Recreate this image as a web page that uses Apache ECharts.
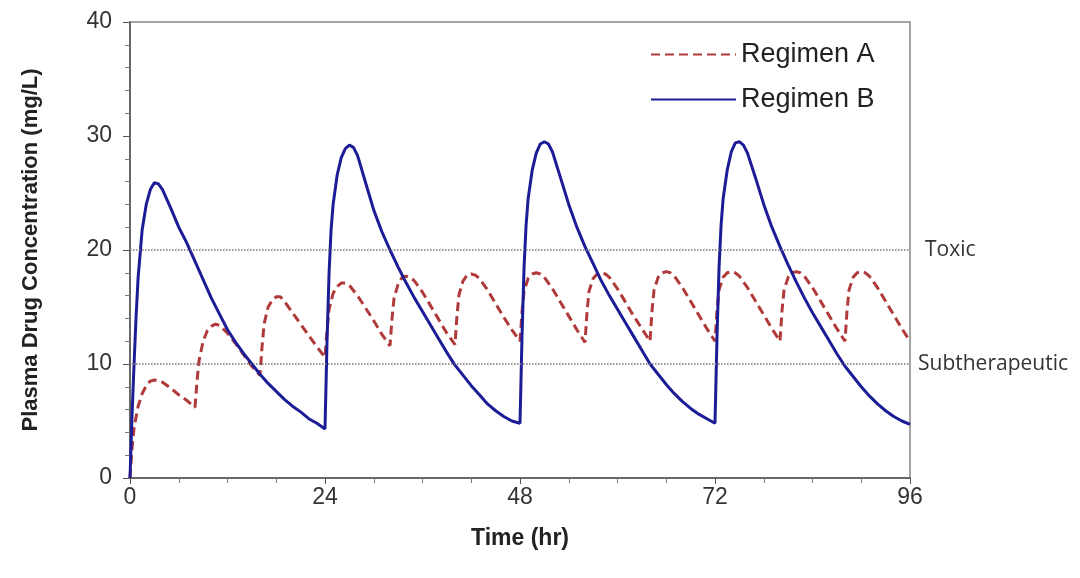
<!DOCTYPE html>
<html>
<head>
<meta charset="utf-8">
<script src="https://cdn.jsdelivr.net/npm/echarts@6/dist/echarts.min.js"></script>
<style>
html, body { margin: 0; padding: 0; background: #fff; }
#chart { width: 1080px; height: 578px; }
</style>
</head>
<body>
<div id="chart"></div>
<script>
// Regimen A: a dose every 8 hr
const timeA = [
  0, 0.25, 0.5, 1, 1.5, 2, 2.5, 3, 4, 5, 6, 7,
  8, 8.25, 8.5, 9, 9.5, 10, 10.5, 11, 12, 13, 14, 15,
  16, 16.25, 16.5, 17, 17.5, 18, 18.5, 19, 20, 21, 22, 23,
  24, 24.25, 24.5, 25, 25.5, 26, 26.5, 27, 28, 29, 30, 31,
  32, 32.25, 32.5, 33, 33.5, 34, 34.5, 35, 36, 37, 38, 39,
  40, 40.25, 40.5, 41, 41.5, 42, 42.5, 43, 44, 45, 46, 47,
  48, 48.25, 48.5, 49, 49.5, 50, 50.5, 51, 52, 53, 54, 55,
  56, 56.25, 56.5, 57, 57.5, 58, 58.5, 59, 60, 61, 62, 63,
  64, 64.25, 64.5, 65, 65.5, 66, 66.5, 67, 68, 69, 70, 71,
  72, 72.25, 72.5, 73, 73.5, 74, 74.5, 75, 76, 77, 78, 79,
  80, 80.25, 80.5, 81, 81.5, 82, 82.5, 83, 84, 85, 86, 87,
  88, 88.25, 88.5, 89, 89.5, 90, 90.5, 91, 92, 93, 94, 95,
  96
]
const concA = [
  0, 2.6, 4.4, 6.3, 7.4, 8.1, 8.5, 8.6, 8.4, 7.9, 7.3, 6.8,
  6.2, 8.5, 10.3, 12.0, 12.9, 13.3, 13.5, 13.4, 12.7, 11.8, 10.8, 9.8,
  9.0, 11.5, 13.5, 15.0, 15.6, 15.9, 15.9, 15.5, 14.5, 13.5, 12.5, 11.5,
  10.6, 13.0, 14.8, 16.2, 16.8, 17.1, 17.1, 16.9, 16.0, 14.9, 13.8, 12.6,
  11.6, 14.0, 15.8, 17.0, 17.6, 17.7, 17.6, 17.3, 16.3, 15.1, 13.9, 12.7,
  11.7, 14.3, 16.1, 17.3, 17.8, 17.9, 17.8, 17.5, 16.5, 15.3, 14.1, 13.0,
  12.0, 14.6, 16.4, 17.5, 17.9, 18.0, 17.9, 17.6, 16.6, 15.4, 14.2, 13.0,
  11.9, 14.6, 16.4, 17.5, 17.9, 18.0, 17.9, 17.6, 16.6, 15.4, 14.2, 13.1,
  12.0, 14.7, 16.5, 17.6, 18.0, 18.1, 18.0, 17.7, 16.7, 15.5, 14.3, 13.1,
  12.0, 14.7, 16.5, 17.6, 18.0, 18.1, 18.0, 17.7, 16.7, 15.5, 14.3, 13.1,
  12.0, 14.7, 16.5, 17.6, 18.0, 18.1, 18.0, 17.7, 16.7, 15.5, 14.3, 13.1,
  12.0, 14.7, 16.5, 17.6, 18.0, 18.1, 18.0, 17.7, 16.7, 15.5, 14.3, 13.1,
  12.0
]

// Regimen B: a dose every 24 hr
const timeB = [
  0, 0.25, 0.5, 0.75, 1, 1.5, 2, 2.5, 3, 3.5, 4, 5, 6, 7, 8, 9, 10, 11, 12, 13, 14, 15, 16, 17, 18, 19, 20, 21, 22, 23,
  24, 24.25, 24.5, 24.75, 25, 25.5, 26, 26.5, 27, 27.5, 28, 29, 30, 31, 32, 33, 34, 35, 36, 37, 38, 39, 40, 41, 42, 43, 44, 45, 46, 47,
  48, 48.25, 48.5, 48.75, 49, 49.5, 50, 50.5, 51, 51.5, 52, 53, 54, 55, 56, 57, 58, 59, 60, 61, 62, 63, 64, 65, 66, 67, 68, 69, 70, 71,
  72, 72.25, 72.5, 72.75, 73, 73.5, 74, 74.5, 75, 75.5, 76, 77, 78, 79, 80, 81, 82, 83, 84, 85, 86, 87, 88, 89, 90, 91, 92, 93, 94, 95,
  96
]
const concB = [
  0, 5.5, 10.0, 14.2, 17.6, 21.8, 24.0, 25.3, 25.9, 25.8, 25.3, 23.7, 22.0, 20.6, 19.0, 17.4, 15.8, 14.4, 13.0, 11.9, 10.9, 10.0, 9.1, 8.3, 7.6, 6.9, 6.3, 5.8, 5.2, 4.8,
  4.3, 12.0, 18.0, 21.8, 24.0, 26.6, 28.1, 28.9, 29.2, 29.0, 28.3, 25.9, 23.5, 21.6, 20.0, 18.5, 17.1, 15.8, 14.6, 13.4, 12.2, 11.0, 9.9, 9.0, 8.1, 7.3, 6.5, 5.9, 5.4, 5.0,
  4.8, 12.5, 18.5, 22.2, 24.5, 27.0, 28.5, 29.3, 29.5, 29.3, 28.6, 26.3, 24.0, 22.0, 20.3, 18.8, 17.3, 16.0, 14.8, 13.6, 12.4, 11.2, 10.0, 9.1, 8.2, 7.4, 6.7, 6.1, 5.6, 5.2,
  4.8, 12.5, 18.5, 22.2, 24.5, 27.0, 28.6, 29.4, 29.5, 29.2, 28.5, 26.3, 24.0, 22.0, 20.3, 18.7, 17.2, 15.8, 14.5, 13.3, 12.1, 10.9, 9.8, 8.9, 8.0, 7.2, 6.5, 5.9, 5.4, 5.0,
  4.7
]

const limitNames = ["Toxic", "Subtherapeutic"]
const limitValues = [20, 10]

const chart = echarts.init(document.getElementById("chart"))
chart.setOption({
    animation: false,
    textStyle: { fontFamily: "Liberation Sans, Arial, sans-serif" },
    grid: {
        left: 130,
        right: 170,
        top: 22,
        bottom: 100,
        show: true,
        borderColor: "#888",
        borderWidth: 1.5
    },
    legend: {
        data: ["Regimen A", "Regimen B"],
        orient: "vertical",
        left: 645,
        top: 36,
        itemWidth: 85,
        itemHeight: 14,
        itemGap: 18,
        itemStyle: { opacity: 0 },
        textStyle: { fontSize: 27, color: "#222" }
    },
    xAxis: {
        type: "value",
        min: 0,
        max: 96,
        interval: 24,
        name: "Time (hr)",
        nameLocation: "middle",
        nameGap: 49,
        nameTextStyle: { fontSize: 23, fontWeight: "bold", color: "#222" },
        axisLine: { lineStyle: { color: "#555", width: 1.5 } },
        axisTick: { length: 6, lineStyle: { color: "#555" } },
        minorTick: { show: true, splitNumber: 4, length: 5, lineStyle: { color: "#777" } },
        splitLine: { show: false },
        axisLabel: { fontSize: 23, color: "#333", margin: 8 }
    },
    yAxis: {
        type: "value",
        min: 0,
        max: 40,
        interval: 10,
        name: "Plasma Drug Concentration (mg/L)",
        nameLocation: "middle",
        nameGap: 88,
        nameTextStyle: { fontSize: 22, fontWeight: "bold", color: "#222" },
        axisLine: { show: true, lineStyle: { color: "#555", width: 1.5 } },
        axisTick: { show: true, length: 7, lineStyle: { color: "#555" } },
        minorTick: { show: true, splitNumber: 5, length: 5, lineStyle: { color: "#777" } },
        splitLine: { show: false },
        axisLabel: { fontSize: 23, color: "#333", margin: 18 }
    },
    series: [
        {
            name: "limits",
            type: "line",
            data: [],
            z: 1,
            markLine: {
                silent: true,
                symbol: "none",
                lineStyle: { type: "dotted", color: "#777", width: 1.5 },
                label: {
                    position: "end",
                    fontSize: 21,
                    color: "#333",
                    fontFamily: "Open Sans, sans-serif"
                },
                data: limitValues.map((v, i) => ({
                    yAxis: v,
                    label: { formatter: limitNames[i], distance: i === 0 ? 15 : 8 }
                }))
            }
        },
        {
            name: "Regimen A",
            type: "line",
            z: 2,
            symbol: "none",
            data: timeA.map((t, i) => [t, concA[i]]),
            lineStyle: { color: "#b03a3a", width: 3, type: [9, 5] },
            itemStyle: { color: "#b03a3a" }
        },
        {
            name: "Regimen B",
            type: "line",
            z: 3,
            symbol: "none",
            data: timeB.map((t, i) => [t, concB[i]]),
            lineStyle: { color: "#1c1c96", width: 3 },
            itemStyle: { color: "#1c1c96" }
        }
    ]
})
</script>
</body>
</html>
